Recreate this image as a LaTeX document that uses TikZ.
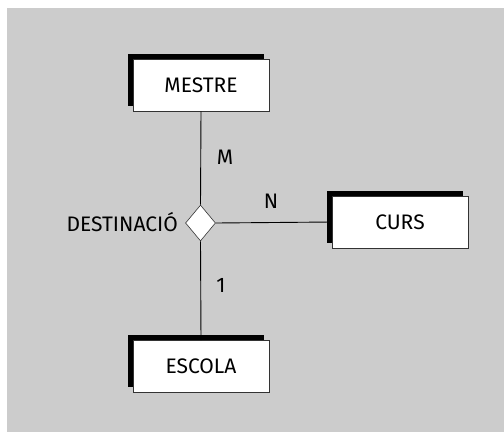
\documentclass[tikz,border=0pt]{standalone}
\usepackage{fontspec}
\setmainfont{Fira Sans}
\usetikzlibrary{shapes.geometric,shadows}
\definecolor{bggray}{HTML}{CCCCCC}
\definecolor{edgegray}{HTML}{333333}
\tikzset{
  entity/.style={rectangle, draw=edgegray, line width=0.6pt, fill=white,
    minimum width=136pt, minimum height=52pt, inner sep=0pt,
    font=\fontsize{21}{23}\selectfont,
    general shadow={fill=black, shadow xshift=-5pt, shadow yshift=5.5pt}},
  rel/.style={diamond, draw=edgegray, line width=0.6pt, fill=white,
    minimum width=30pt, minimum height=36pt, inner sep=0pt},
  card/.style={font=\fontsize{21}{23}\selectfont, inner sep=0pt},
  link/.style={draw=black, line width=0.9pt}
}
\begin{document}
\begin{tikzpicture}[x=1pt,y=-1pt]
\useasboundingbox (0,0) rectangle (504,432);
\fill[bggray] (7,8) rectangle (504,432);
\node[entity] (mestre) at (201,85) {MESTRE};
\node[entity] (curs) at (400,222) {CURS};
\node[entity] (escola) at (201,366.5) {ESCOLA};
\node[rel] (dest) at (200.5,223) {};
\node[card, anchor=east] (dlab) at (178,222) {DESTINACIÓ};
\node[card] (m) at (225,157) {M};
\node[card] (n) at (271,201) {N};
\node[card] (one) at (221,285) {1};
\draw[link] (mestre.south) -- (dest.north);
\draw[link] (dest.east) -- (curs.west);
\draw[link] (dest.south) -- (escola.north);
\end{tikzpicture}
\end{document}
